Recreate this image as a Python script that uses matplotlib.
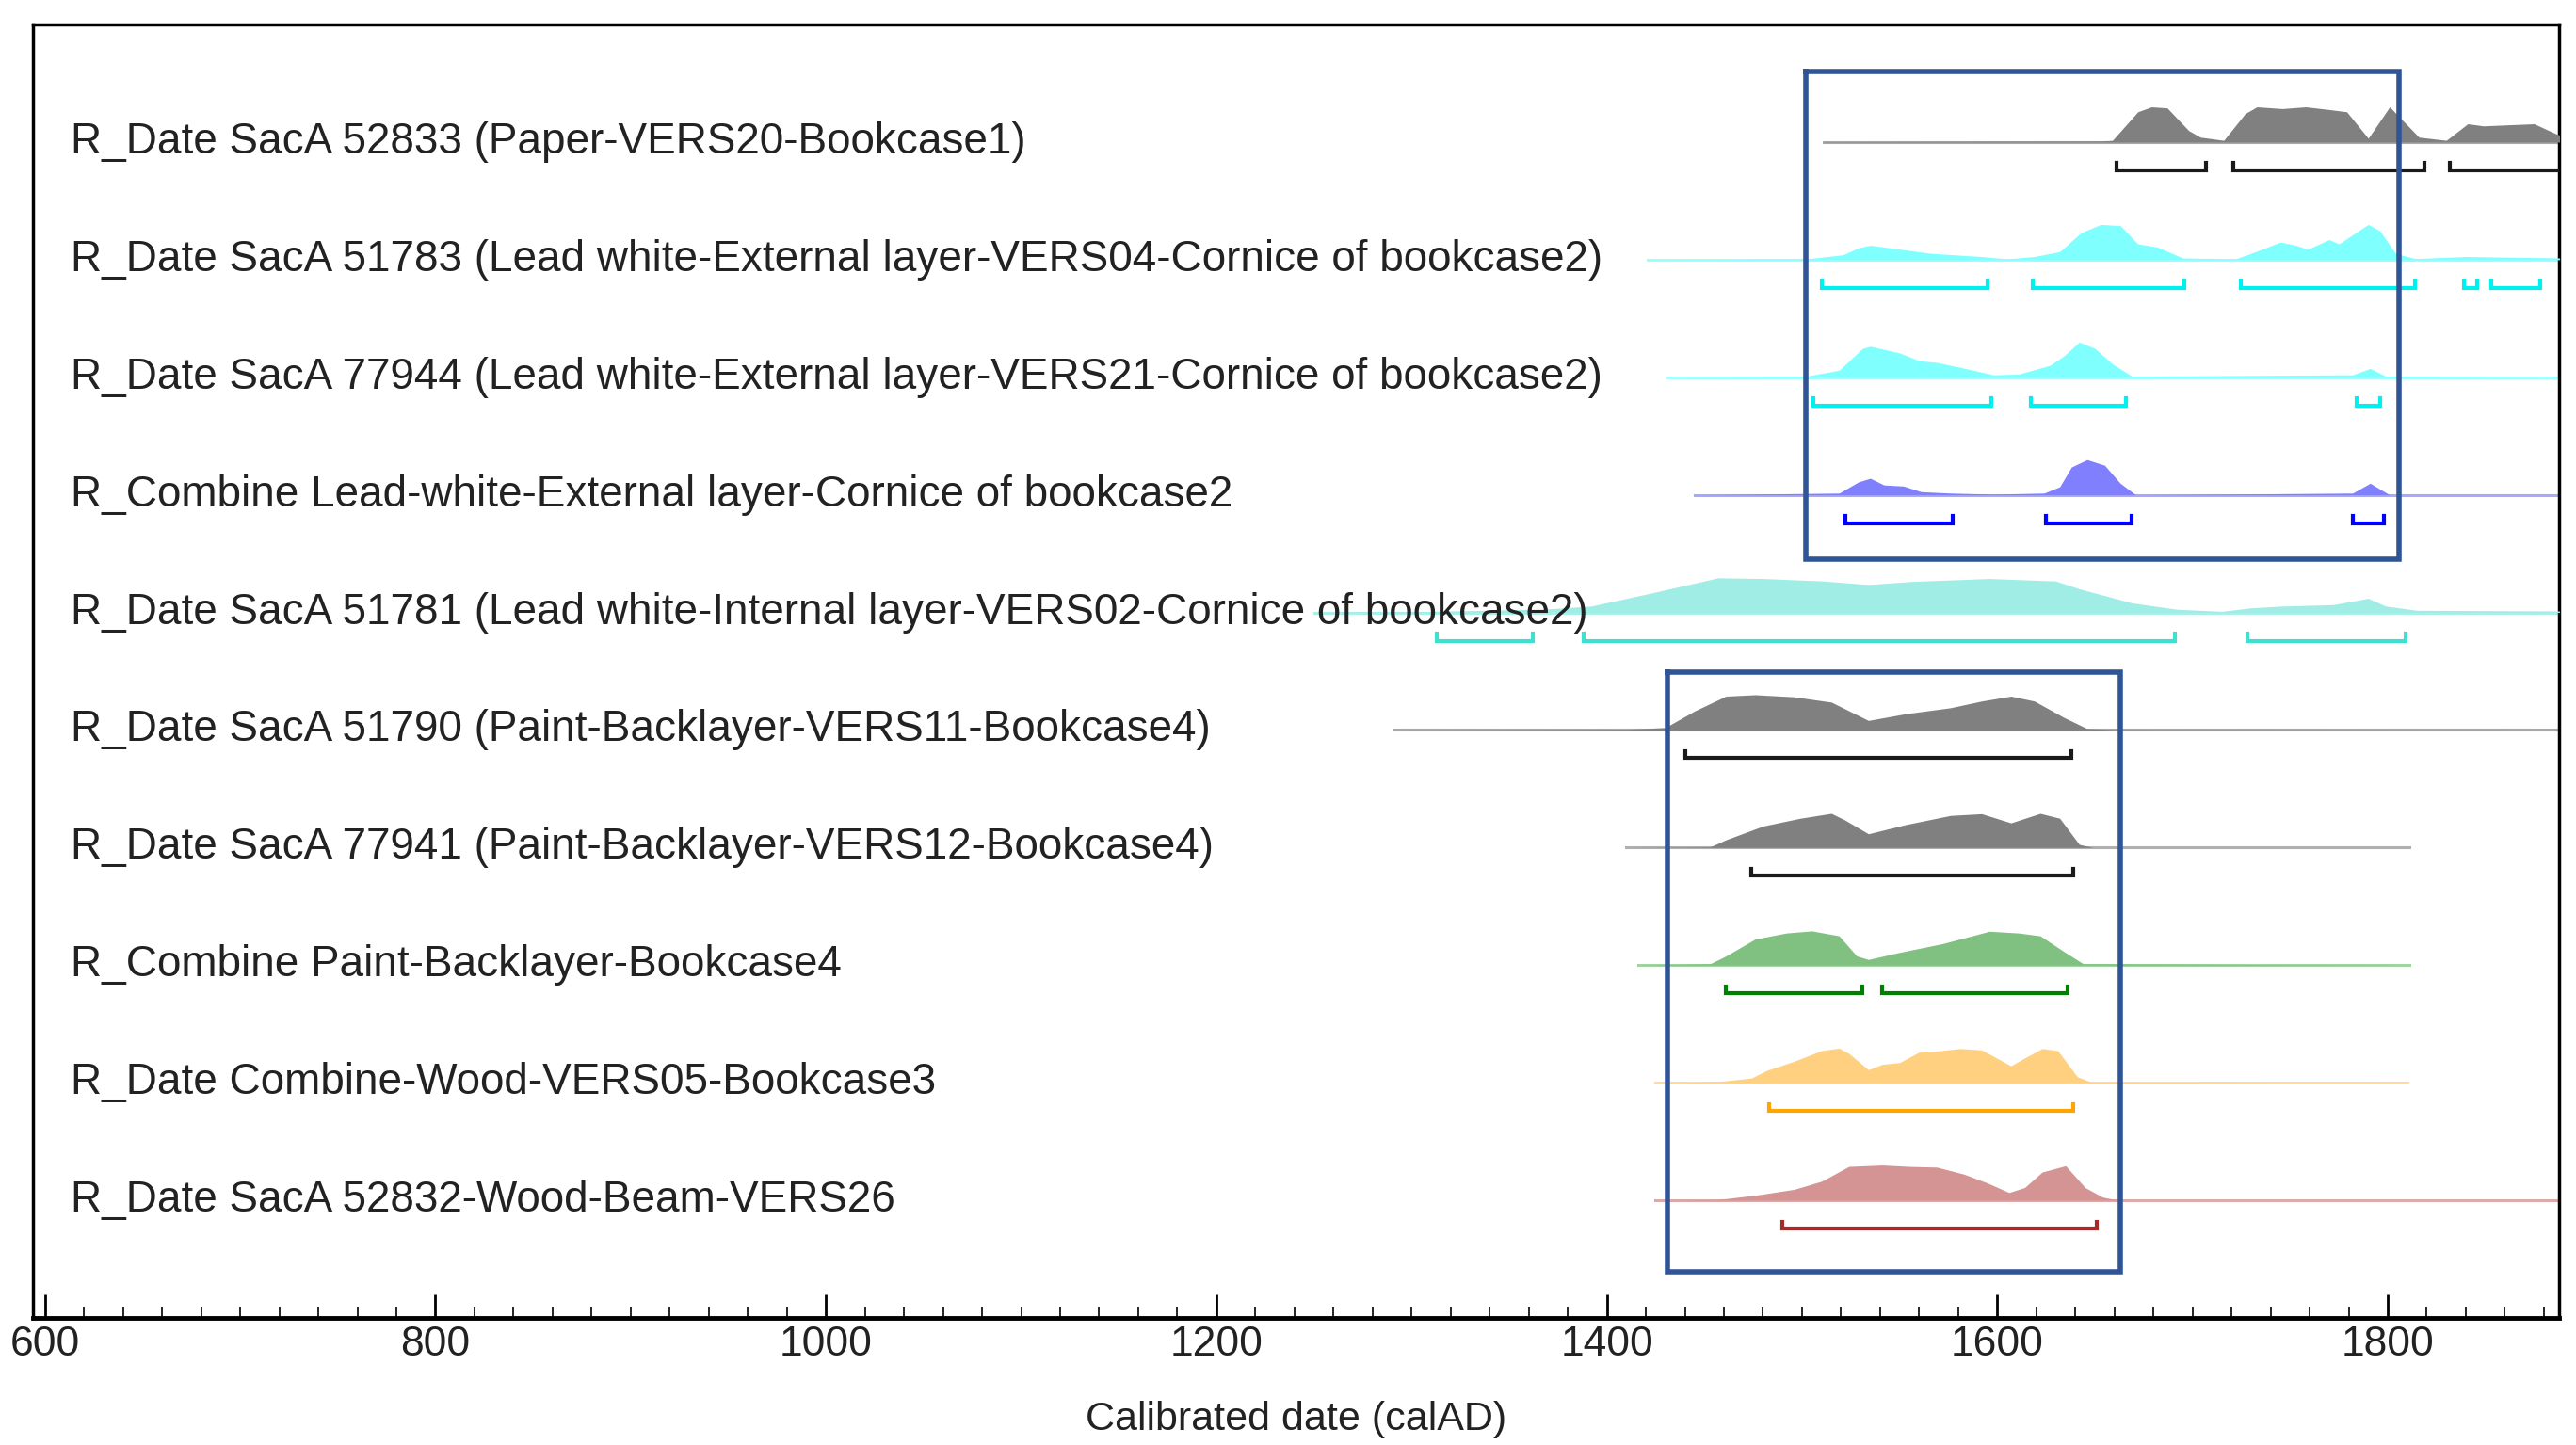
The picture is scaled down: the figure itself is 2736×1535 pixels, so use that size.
import matplotlib.pyplot as plt

plt.rcParams['font.family'] = ['Liberation Sans', 'DejaVu Sans']

# row labels, top to bottom
labels = [
    "R_Date SacA 52833 (Paper-VERS20-Bookcase1)",
    "R_Date SacA 51783 (Lead white-External layer-VERS04-Cornice of bookcase2)",
    "R_Date SacA 77944 (Lead white-External layer-VERS21-Cornice of bookcase2)",
    "R_Combine Lead-white-External layer-Cornice of bookcase2",
    "R_Date SacA 51781 (Lead white-Internal layer-VERS02-Cornice of bookcase2)",
    "R_Date SacA 51790 (Paint-Backlayer-VERS11-Bookcase4)",
    "R_Date SacA 77941 (Paint-Backlayer-VERS12-Bookcase4)",
    "R_Combine Paint-Backlayer-Bookcase4",
    "R_Date Combine-Wood-VERS05-Bookcase3",
    "R_Date SacA 52832-Wood-Beam-VERS26",
]

# posterior density outlines (calAD, relative height)
r1_years = [1511, 1653, 1659, 1672, 1679, 1687, 1698, 1704, 1716, 1727, 1733, 1746, 1758, 1769, 1779,
            1790, 1801, 1806, 1816, 1830, 1841, 1849, 1875, 1886, 1888]
r1_dens = [0.01, 0.03, 0.05, 0.86, 1.0, 0.97, 0.33, 0.14, 0.05, 0.81, 1.0, 0.95, 1.0, 0.93, 0.86,
           0.11, 1.0, 0.71, 0.14, 0.05, 0.52, 0.46, 0.52, 0.24, 0.2]
r2_years = [1421, 1502, 1521, 1529, 1535, 1550, 1566, 1592, 1605, 1619, 1632, 1643, 1653, 1663, 1672,
            1682, 1695, 1722, 1730, 1745, 1753, 1759, 1770, 1775, 1790, 1796, 1804, 1814, 1840, 1888]
r2_dens = [0.0, 0.02, 0.14, 0.34, 0.41, 0.3, 0.18, 0.09, 0.02, 0.09, 0.23, 0.77, 1.0, 0.97, 0.45,
           0.36, 0.05, 0.02, 0.18, 0.5, 0.41, 0.3, 0.57, 0.45, 1.0, 0.82, 0.18, 0.03, 0.09, 0.05]
r3_years = [1431, 1502, 1519, 1531, 1535, 1550, 1560, 1569, 1582, 1598, 1611, 1627, 1634, 1642, 1650,
            1659, 1669, 1782, 1791, 1799, 1888]
r3_dens = [0.0, 0.03, 0.2, 0.82, 0.88, 0.69, 0.47, 0.42, 0.27, 0.07, 0.09, 0.34, 0.6, 1.0, 0.82,
           0.38, 0.03, 0.07, 0.25, 0.03, 0.0]
r4_years = [1445, 1519, 1529, 1535, 1542, 1552, 1561, 1576, 1598, 1624, 1632, 1638, 1646, 1655, 1663,
            1671, 1782, 1791, 1801, 1888]
r4_dens = [0.0, 0.05, 0.37, 0.47, 0.28, 0.25, 0.09, 0.05, 0.02, 0.05, 0.23, 0.79, 1.0, 0.84, 0.33,
           0.0, 0.05, 0.33, 0.0, 0.0]
r5_years = [1250, 1310, 1340, 1370, 1392, 1422, 1457, 1480, 1511, 1534, 1557, 1596, 1630, 1642, 1669,
            1692, 1715, 1730, 1746, 1772, 1790, 1799, 1815, 1888]
r5_dens = [0.0, 0.03, 0.06, 0.1, 0.18, 0.54, 0.98, 0.96, 0.89, 0.79, 0.88, 0.96, 0.89, 0.67, 0.27,
           0.09, 0.03, 0.13, 0.18, 0.22, 0.4, 0.18, 0.06, 0.04]
r6_years = [1291, 1411, 1430, 1445, 1461, 1476, 1496, 1515, 1534, 1553, 1576, 1592, 1607, 1619, 1634,
            1646, 1661, 1888]
r6_dens = [0.0, 0.02, 0.07, 0.54, 0.96, 1.0, 0.94, 0.79, 0.27, 0.46, 0.63, 0.82, 0.96, 0.82, 0.36,
           0.04, 0.01, 0.0]
r7_years = [1410, 1453, 1461, 1480, 1499, 1515, 1522, 1534, 1553, 1576, 1592, 1607, 1622, 1632, 1642,
            1649, 1811]
r7_dens = [0.0, 0.02, 0.22, 0.61, 0.83, 0.97, 0.78, 0.39, 0.65, 0.91, 0.96, 0.7, 0.97, 0.83, 0.09,
           0.0, 0.0]
r8_years = [1416, 1453, 1461, 1476, 1492, 1505, 1519, 1528, 1534, 1549, 1572, 1596, 1611, 1622, 1634,
            1644, 1811]
r8_dens = [0.0, 0.04, 0.26, 0.74, 0.91, 0.97, 0.83, 0.26, 0.16, 0.35, 0.61, 0.96, 0.91, 0.83, 0.39,
           0.04, 0.0]
r9_years = [1425, 1457, 1474, 1482, 1496, 1510, 1519, 1524, 1534, 1541, 1550, 1560, 1569, 1581, 1592,
            1607, 1614, 1623, 1631, 1641, 1648, 1810]
r9_dens = [0.0, 0.03, 0.13, 0.35, 0.61, 0.91, 0.98, 0.83, 0.37, 0.52, 0.57, 0.87, 0.9, 0.97, 0.93,
           0.48, 0.7, 0.97, 0.91, 0.17, 0.02, 0.0]
r10_years = [1425, 1457, 1477, 1496, 1510, 1524, 1541, 1555, 1569, 1583, 1595, 1606, 1614, 1623, 1635,
             1645, 1654, 1662, 1888]
r10_dens = [0.0, 0.02, 0.15, 0.31, 0.54, 0.96, 1.0, 0.96, 0.94, 0.74, 0.49, 0.22, 0.36, 0.8, 0.98,
            0.36, 0.09, 0.0, 0.0]

# highest posterior density ranges (calAD)
r1_ranges = [(1661, 1707), (1721, 1819), (1832, 1895)]
r2_ranges = [(1510, 1595), (1618, 1696), (1725, 1814), (1839, 1846), (1853, 1878)]
r3_ranges = [(1506, 1597), (1617, 1666), (1784, 1796)]
r4_ranges = [(1522, 1577), (1625, 1669), (1782, 1798)]
r5_ranges = [(1313, 1362), (1388, 1691), (1728, 1809)]
r6_ranges = [(1440, 1638)]
r7_ranges = [(1474, 1639)]
r8_ranges = [(1461, 1531), (1541, 1636)]
r9_ranges = [(1483, 1639)]
r10_ranges = [(1490, 1651)]

all_years = [r1_years, r2_years, r3_years, r4_years, r5_years, r6_years, r7_years, r8_years, r9_years, r10_years]
all_dens = [r1_dens, r2_dens, r3_dens, r4_dens, r5_dens, r6_dens, r7_dens, r8_dens, r9_dens, r10_dens]
all_ranges = [r1_ranges, r2_ranges, r3_ranges, r4_ranges, r5_ranges, r6_ranges, r7_ranges, r8_ranges,
              r9_ranges, r10_ranges]

fill_colors = ['#808080', '#80FFFF', '#80FFFF', '#8080FF', '#A0EDE6', '#808080', '#808080',
               '#80C080', '#FFD080', '#D49494']
base_colors = ['#A8A8A8', '#9CFFFF', '#A6FFFF', '#A8A8FF', '#A8F0EA', '#A8A8A8', '#B0B0B0',
               '#A0D4A0', '#FFDC9C', '#DDAAAA']
line_colors = ['#1a1a1a', '#00F0F0', '#00F0F0', '#0000FF', '#40E0D0', '#1a1a1a', '#1a1a1a',
               '#008000', '#FFA500', '#A52A2A']

# highlighted groups (calAD range, row range)
box_years = [(1502, 1806), (1431, 1663)]
box_rows = [(0.4, 4.55), (5.51, 10.61)]

fig = plt.figure(figsize=(27.36, 15.35), dpi=100)
ax = fig.add_axes([0.0129, 0.088, 0.9807, 0.895])

peak_h = 0.3
for i in range(len(labels)):
    base = -(i + 1)
    yrs = all_years[i]
    h = [base + d * peak_h for d in all_dens[i]]
    ax.plot([yrs[0], yrs[-1]], [base, base], color=base_colors[i], lw=2.2, zorder=2)
    ax.fill_between(yrs, base, h, color=fill_colors[i], lw=0, zorder=3)
    yb = base - 0.24
    for (a, b) in all_ranges[i]:
        ax.plot([a, a, b, b], [yb + 0.06, yb, yb, yb + 0.06], color=line_colors[i], lw=3,
                solid_joinstyle='miter', zorder=3)
    ax.text(613, base, labels[i], fontsize=33, color='#222222', va='center', ha='left', zorder=5)

for (x0, x1), (t, b) in zip(box_years, box_rows):
    ax.plot([x0, x1, x1, x0, x0], [-t, -t, -b, -b, -t], color='#2F5597', lw=4, zorder=6,
            solid_joinstyle='miter')

ax.set_xlim(594, 1888)
ax.set_ylim(-11.0, 0.0)
ax.set_yticks([])
ax.set_xticks([600, 800, 1000, 1200, 1400, 1600, 1800])
ax.set_xticks(range(600, 1890, 20), minor=True)
ax.tick_params(axis='x', which='major', direction='in', length=18, width=2, labelsize=32, pad=6,
               labelcolor='#222222')
ax.tick_params(axis='x', which='minor', direction='in', length=9, width=1.2)
for s in ax.spines.values():
    s.set_linewidth(2.5)
ax.spines['bottom'].set_linewidth(3.5)
ax.set_xlabel("Calibrated date (calAD)", fontsize=31, color='#222222', labelpad=28)

plt.savefig('out.png', dpi=100)
